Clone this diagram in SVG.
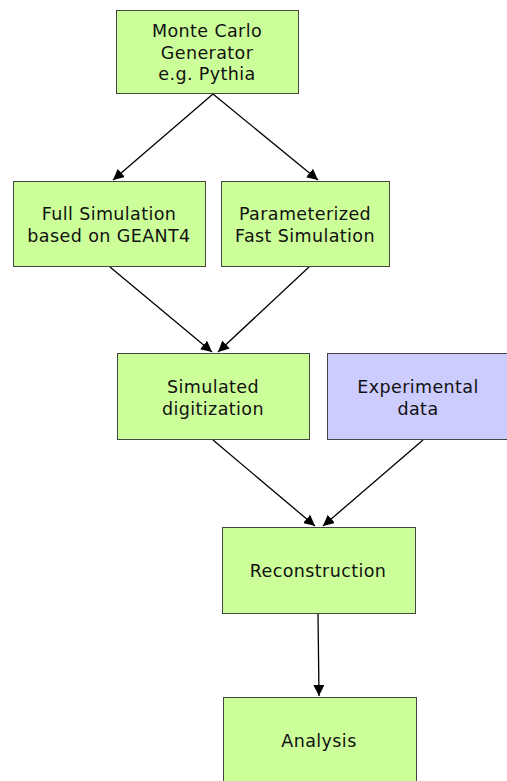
<svg xmlns="http://www.w3.org/2000/svg" width="507" height="781" viewBox="0 0 507 781">
<style>
.box{stroke:#444;stroke-width:1}
.g{fill:#ccff99}
.p{fill:#ccccff}
text{font-family:"DejaVu Sans",Verdana,sans-serif;font-size:17.5px;letter-spacing:0.4px;fill:#111;text-anchor:middle}
.c{stroke:#000;stroke-width:1.3;fill:none;marker-end:url(#ah)}
</style>
<defs>
<marker id="ah" markerWidth="12" markerHeight="12" refX="11" refY="5.5" orient="auto" markerUnits="userSpaceOnUse">
<path d="M0,0 L11,5.5 L0,11 Z" fill="#000"/>
</marker>
</defs>
<rect width="507" height="781" fill="#fff"/>
<g id="connectors">
<line class="c" x1="213" y1="94" x2="113" y2="180"/>
<line class="c" x1="213" y1="94" x2="318" y2="180"/>
<line class="c" x1="110" y1="267" x2="212" y2="352"/>
<line class="c" x1="309" y1="267" x2="218" y2="352"/>
<line class="c" x1="213" y1="440" x2="315" y2="526"/>
<line class="c" x1="423" y1="440" x2="323" y2="526"/>
<line class="c" x1="318" y1="613" x2="319" y2="696"/>
</g>
<g id="mc">
<rect class="box g" x="116.5" y="10.5" width="182" height="83"/>
<text x="207" y="37">Monte Carlo</text>
<text x="207" y="59">Generator</text>
<text x="207" y="80">e.g. Pythia</text>
</g>
<g id="fullsim">
<rect class="box g" x="13.5" y="181.5" width="192" height="85"/>
<text x="109" y="220">Full Simulation</text>
<text x="109" y="242">based on GEANT4</text>
</g>
<g id="fastsim">
<rect class="box g" x="221.5" y="181.5" width="168" height="85"/>
<text x="305" y="220">Parameterized</text>
<text x="305" y="242">Fast Simulation</text>
</g>
<g id="digi">
<rect class="box g" x="117.5" y="353.5" width="192" height="86"/>
<text x="213" y="393">Simulated</text>
<text x="213" y="415">digitization</text>
</g>
<g id="exp">
<rect class="box p" x="327.5" y="353.5" width="190" height="86"/>
<text x="418" y="393">Experimental</text>
<text x="418" y="415">data</text>
</g>
<g id="reco">
<rect class="box g" x="222.5" y="527.5" width="193" height="86"/>
<text x="318" y="577">Reconstruction</text>
</g>
<g id="ana">
<rect class="box g" x="223.5" y="697.5" width="193" height="100"/>
<text x="319" y="747">Analysis</text>
</g>
</svg>
